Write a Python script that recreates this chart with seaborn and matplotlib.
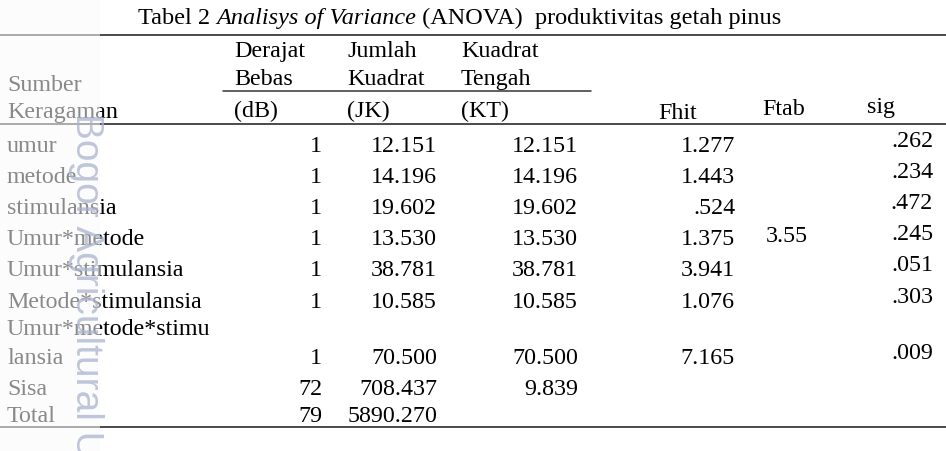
import matplotlib
matplotlib.use("Agg")
import matplotlib.pyplot as plt
import seaborn as sns
import pandas as pd
from matplotlib.patches import Rectangle

# ANOVA table values
sumber = ["umur", "metode", "stimulansia", "Umur*metode", "Umur*stimulansia",
          "Metode*stimulansia", "Umur*metode*stimu\nlansia", "Sisa", "Total"]
db = [1, 1, 1, 1, 1, 1, 1, 72, 79]
jk = [12.151, 14.196, 19.602, 13.530, 38.781, 10.585, 70.500, 708.437, 5890.270]
kt = [12.151, 14.196, 19.602, 13.530, 38.781, 10.585, 70.500, 9.839, None]
fhit = [1.277, 1.443, 0.524, 1.375, 3.941, 1.076, 7.165, None, None]
sig = [0.262, 0.234, 0.472, 0.245, 0.051, 0.303, 0.009, None, None]
ftab = 3.55
ftab_row = 3

df = pd.DataFrame({"sumber": sumber, "db": db, "jk": jk, "kt": kt, "fhit": fhit, "sig": sig})

# layout (pixels)
row_base = [152, 183, 214, 245, 276, 308, 364, 395, 422]
line_gap = 29
FS = 17.3


def fmt(v):
    if v is None or pd.isna(v):
        return ""
    s = f"{v:.3f}"
    return s[1:] if s.startswith("0.") else s


sns.set_theme(style="white")
plt.rcParams['font.family'] = ['Liberation Serif', 'DejaVu Serif']

fig = plt.figure(figsize=(9.46, 4.52), dpi=100)
ax = fig.add_axes([0, 0, 1, 1])
ax.set_xlim(0, 946)
ax.set_ylim(452, 0)
ax.axis("off")

# title, mixed roman / italic
renderer = fig.canvas.get_renderer()
x = 138
for piece, style in [("Tabel 2 ", "normal"), ("Analisys of Variance", "italic"),
                     (" (ANOVA)  produktivitas getah pinus", "normal")]:
    t = ax.text(x, 24, piece, fontsize=17.5, style=style, ha="left", va="baseline", color="black")
    x = t.get_window_extent(renderer=renderer).x1

# rules
kw = dict(color="#4a4a4a", lw=1.4, solid_capstyle="butt")
ax.plot([0, 946], [36, 36], **kw)
ax.plot([0, 946], [125, 125], **kw)
ax.plot([0, 946], [428, 428], **kw)
ax.plot([223, 591], [92, 92], color="#333333", lw=1.1)

# header
hdr = dict(fontsize=FS, ha="left", va="baseline", color="black")
ax.text(7, 91, "Sumber", **hdr)
ax.text(7, 118, "Keragaman", **hdr)
for hx, lines in [(234, ["Derajat", "Bebas", "(dB)"]),
                  (347, ["Jumlah", "Kuadrat", "(JK)"]),
                  (461, ["Kuadrat", "Tengah", "(KT)"])]:
    ax.text(hx, 57, lines[0], **hdr)
    ax.text(hx, 85, lines[1], **hdr)
    ax.text(hx, 117, lines[2], **hdr)
ax.text(658, 119, "Fhit", **hdr)
ax.text(762, 115, "Ftab", **hdr)
ax.text(867, 113, "sig", **hdr)

# body
cell = dict(fontsize=FS, va="baseline", color="black")
for i, r in df.iterrows():
    yb = row_base[i]
    parts = r["sumber"].split("\n")
    for k, p in enumerate(parts):
        ax.text(7, yb - (len(parts) - 1 - k) * line_gap, p, ha="left", **cell)
    ax.text(322, yb, str(r["db"]), ha="right", **cell)
    ax.text(437, yb, fmt(r["jk"]), ha="right", **cell)
    ax.text(578, yb, fmt(r["kt"]), ha="right", **cell)
    ax.text(735, yb, fmt(r["fhit"]), ha="right", **cell)
    ax.text(933, yb - 5, fmt(r["sig"]), ha="right", **cell)
ax.text(766, row_base[ftab_row] - 3, f"{ftab:.2f}", ha="left", **cell)

# repository watermark band
ax.add_patch(Rectangle((0, 0), 100, 452, facecolor="#fbfbfb", edgecolor="none", alpha=0.55, zorder=5))
ax.text(86, 113, "Bogor Agricultural University", rotation=270, fontsize=28,
        family=["Liberation Sans", "DejaVu Sans"], color="#aab3cf", alpha=0.75,
        ha="center", va="top", zorder=6)

fig.savefig("out.png", dpi=100)
